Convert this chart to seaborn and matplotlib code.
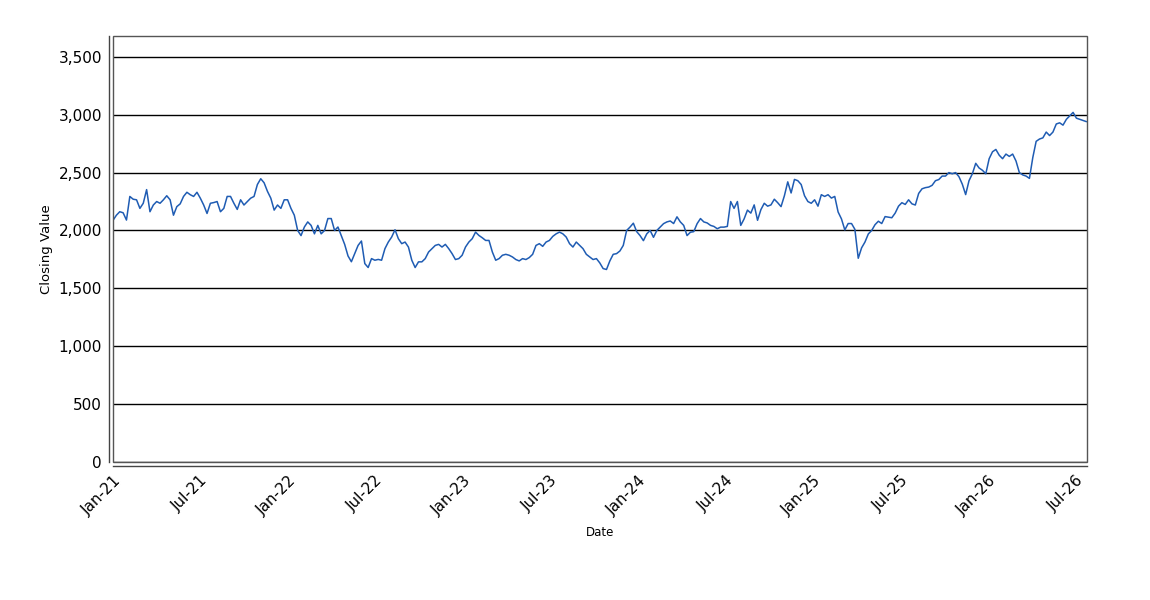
import pandas as pd
import numpy as np
import seaborn as sns
import matplotlib.pyplot as plt
import matplotlib.dates as mdates
from matplotlib.patches import Rectangle
from matplotlib.ticker import FuncFormatter

# weekly closing values, starting 2021-01-01
start_date = "2021-01-01"
closing_2021 = [2088, 2132, 2162, 2153, 2090, 2294, 2270, 2265, 2191, 2235,
                2353, 2162, 2220, 2250, 2235, 2265, 2300, 2265, 2132, 2206,
                2230, 2294, 2330, 2309, 2294, 2330, 2279, 2220, 2147, 2235,
                2241, 2250, 2162, 2191, 2294, 2294, 2235, 2182, 2265, 2220,
                2250, 2279, 2294, 2397, 2447, 2412, 2338, 2279, 2176, 2220,
                2191, 2265]
closing_2022 = [2265, 2191, 2132, 2000, 1956, 2030, 2074, 2044, 1971, 2044,
                1971, 2000, 2103, 2103, 2000, 2030, 1956, 1880, 1780, 1730,
                1800, 1871, 1909, 1714, 1680, 1757, 1743, 1750, 1743, 1843,
                1900, 1943, 2006, 1929, 1886, 1900, 1857, 1743, 1680, 1729,
                1729, 1757, 1814, 1843, 1871, 1880, 1857, 1880, 1843, 1800,
                1749, 1757]
closing_2023 = [1786, 1857, 1900, 1929, 1986, 1957, 1937, 1914, 1914, 1814,
                1743, 1757, 1786, 1794, 1786, 1771, 1749, 1737, 1757, 1749,
                1766, 1794, 1871, 1886, 1863, 1900, 1914, 1949, 1971, 1986,
                1971, 1943, 1886, 1857, 1900, 1871, 1843, 1794, 1771, 1749,
                1757, 1720, 1671, 1663, 1737, 1794, 1800, 1823, 1871, 2000,
                2029, 2063]
closing_2024 = [1990, 1956, 1912, 1971, 2000, 1941, 2000, 2029, 2059, 2074,
                2082, 2060, 2118, 2074, 2044, 1956, 1985, 1990, 2059, 2103,
                2074, 2065, 2044, 2035, 2015, 2029, 2029, 2035, 2250, 2191,
                2250, 2044, 2100, 2176, 2150, 2221, 2088, 2180, 2235, 2210,
                2221, 2270, 2240, 2206, 2300, 2420, 2324, 2441, 2430, 2397,
                2300, 2250]
closing_2025 = [2235, 2265, 2210, 2309, 2294, 2309, 2280, 2294, 2160, 2100,
                2005, 2060, 2060, 2010, 1760, 1850, 1900, 1970, 2000, 2050,
                2080, 2060, 2120, 2115, 2110, 2150, 2210, 2240, 2225, 2265,
                2230, 2220, 2320, 2360, 2370, 2375, 2390, 2430, 2440, 2470,
                2470, 2500, 2490, 2500, 2465, 2400, 2310, 2430, 2490, 2580,
                2540, 2520]
closing_2026 = [2490, 2620, 2680, 2700, 2650, 2620, 2660, 2640, 2660, 2600,
                2500, 2480, 2470, 2450, 2630, 2770, 2790, 2800, 2850, 2820,
                2850, 2920, 2930, 2910, 2960, 2990, 3020, 2970, 2960, 2950,
                2940]

closing = (closing_2021 + closing_2022 + closing_2023 + closing_2024
           + closing_2025 + closing_2026)
dates = pd.date_range(start_date, periods=len(closing), freq="7D")
df = pd.DataFrame({"Date": dates, "Closing Value": closing})

y_ticks = [0, 500, 1000, 1500, 2000, 2500, 3000, 3500]

sns.set_style("white")
plt.rcParams["font.family"] = ["DejaVu Sans"]
plt.rcParams["text.color"] = "black"
plt.rcParams["axes.labelcolor"] = "black"
plt.rcParams["xtick.labelcolor"] = "black"
plt.rcParams["ytick.labelcolor"] = "black"

fig = plt.figure(figsize=(11.5, 6), dpi=100)
ax = fig.add_axes([0.0983, 0.23, 0.8469, 0.71])

sns.lineplot(data=df, x="Date", y="Closing Value", color="#1f5cb3",
             linewidth=1.1, ax=ax)

ax.set_ylim(0, 3680)
ax.set_xlim(pd.Timestamp("2021-01-01"), pd.Timestamp("2026-07-25"))
ax.set_yticks(y_ticks)
ax.yaxis.set_major_formatter(FuncFormatter(lambda v, p: f"{int(v):,}"))
ax.xaxis.set_major_locator(mdates.MonthLocator(bymonth=[1, 7]))
ax.xaxis.set_major_formatter(mdates.DateFormatter("%b-%y"))

for v in y_ticks:
    ax.axhline(v, color="black", linewidth=1, zorder=1)

# plot frame plus offset axis lines
ax.add_patch(Rectangle((0, 0), 1, 1, transform=ax.transAxes, fill=False,
                       edgecolor="#555555", linewidth=1, zorder=3,
                       clip_on=False))
for s in ["top", "right"]:
    ax.spines[s].set_visible(False)
for s in ["left", "bottom"]:
    ax.spines[s].set_position(("outward", 3))
    ax.spines[s].set_color("#444444")
    ax.spines[s].set_linewidth(1)

ax.tick_params(axis="both", direction="out", length=3, width=1,
               color="#444444", labelsize=11, pad=2)
plt.setp(ax.get_xticklabels(), rotation=45, ha="right", rotation_mode="anchor")

ax.set_xlabel("Date", fontsize=8.5, labelpad=6)
ax.set_ylabel("Closing Value", fontsize=9.5, labelpad=4)

fig.savefig("out.png", dpi=100)
